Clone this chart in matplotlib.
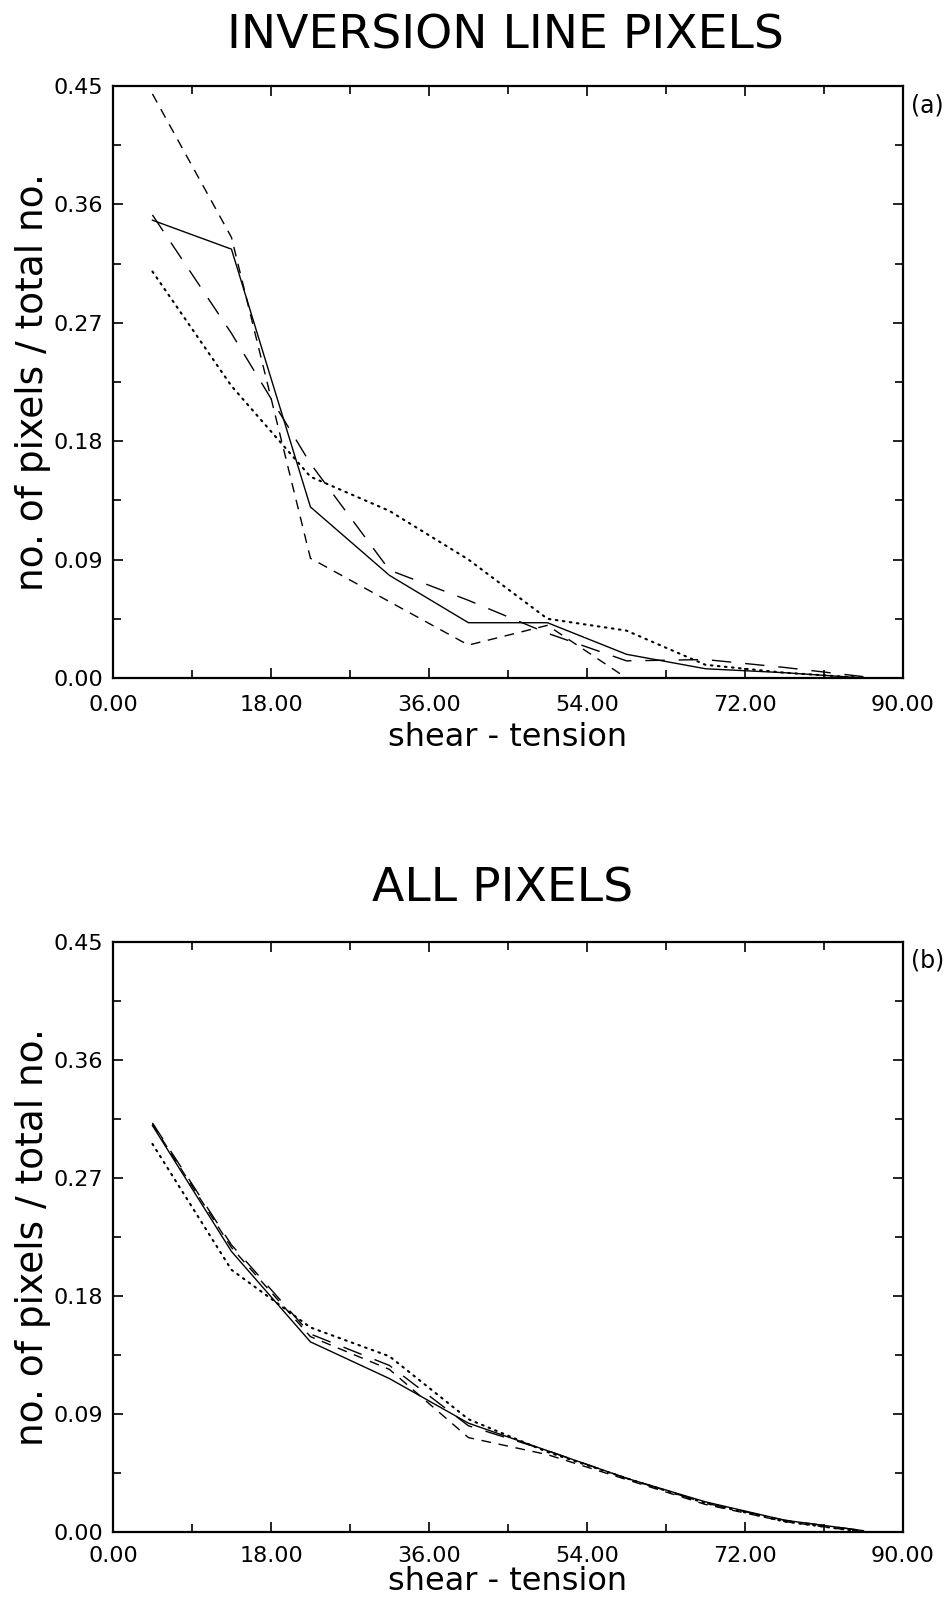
import matplotlib
matplotlib.use('Agg')
from matplotlib import pyplot as plt
from matplotlib.ticker import MultipleLocator, FormatStrFormatter

# bin centres (degrees)
angles = [4.5, 13.5, 22.5, 31.5, 40.5, 49.5, 58.5, 67.5, 76.5, 85.5]

# (a) inversion line pixels
solid_a = [0.348, 0.326, 0.130, 0.078, 0.042, 0.042, 0.018, 0.007, 0.004, 0.000]
short_a = [0.444, 0.335, 0.091, 0.058, 0.025, 0.040, 0.000, 0.000, 0.000, 0.000]
long_a = [0.352, 0.262, 0.163, 0.082, 0.059, 0.034, 0.013, 0.014, 0.008, 0.001]
dotted_a = [0.309, 0.222, 0.153, 0.127, 0.090, 0.045, 0.036, 0.010, 0.004, 0.000]

# (b) all pixels
solid_b = [0.310, 0.214, 0.145, 0.117, 0.083, 0.062, 0.041, 0.023, 0.009, 0.001]
short_b = [0.311, 0.217, 0.149, 0.124, 0.072, 0.059, 0.040, 0.021, 0.008, 0.000]
long_b = [0.312, 0.219, 0.151, 0.127, 0.081, 0.062, 0.041, 0.022, 0.009, 0.001]
dotted_b = [0.296, 0.200, 0.156, 0.134, 0.086, 0.061, 0.041, 0.022, 0.008, 0.000]

titles = ['INVERSION LINE PIXELS', 'ALL PIXELS']
tags = ['(a)', '(b)']

plt.rcParams['font.family'] = ['DejaVu Sans']

fig = plt.figure(figsize=(9.49, 16.02), dpi=100)

panels = [
    (fig.add_axes([0.119, 0.5768, 0.8325, 0.3695]), solid_a, short_a, long_a, dotted_a),
    (fig.add_axes([0.119, 0.0437, 0.8325, 0.3683]), solid_b, short_b, long_b, dotted_b),
]
xpads = [(12, 5), (10, 0)]  # (tick pad, label pad) per panel

lw = 1.0
for i, (ax, s, sd, ld, dt) in enumerate(panels):
    ax.plot(angles, s, color='black', lw=lw)
    ax.plot(angles, sd, color='black', lw=lw, dashes=(7, 5.5))
    ax.plot(angles, ld, color='black', lw=lw, dashes=(14, 10))
    ax.plot(angles, dt, color='black', lw=1.5, dashes=(0.8, 2.6), dash_capstyle='round')

    ax.set_xlim(0, 90)
    ax.set_ylim(0, 0.45)
    ax.xaxis.set_major_locator(MultipleLocator(18))
    ax.xaxis.set_minor_locator(MultipleLocator(9))
    ax.yaxis.set_major_locator(MultipleLocator(0.09))
    ax.yaxis.set_minor_locator(MultipleLocator(0.045))
    ax.xaxis.set_major_formatter(FormatStrFormatter('%.2f'))
    ax.yaxis.set_major_formatter(FormatStrFormatter('%.2f'))
    ax.tick_params(which='both', direction='in', top=True, right=True, width=1.2)
    ax.tick_params(which='major', length=7, labelsize=16)
    ax.tick_params(which='minor', length=6)
    ax.tick_params(axis='x', pad=xpads[i][0])
    ax.tick_params(axis='y', pad=7)
    for sp in ax.spines.values():
        sp.set_linewidth(1.6)

    ax.set_xlabel('shear - tension', fontsize=23, labelpad=xpads[i][1])
    ax.set_ylabel('no. of pixels / total no.', fontsize=27, labelpad=2)

fig.text(0.533, 0.9775, titles[0], fontsize=34, ha='center', va='center')
fig.text(0.53, 0.445, titles[1], fontsize=34, ha='center', va='center')
fig.text(0.977, 0.934, tags[0], fontsize=17, ha='center', va='center')
fig.text(0.977, 0.4007, tags[1], fontsize=17, ha='center', va='center')

fig.savefig('out.png', dpi=100)
